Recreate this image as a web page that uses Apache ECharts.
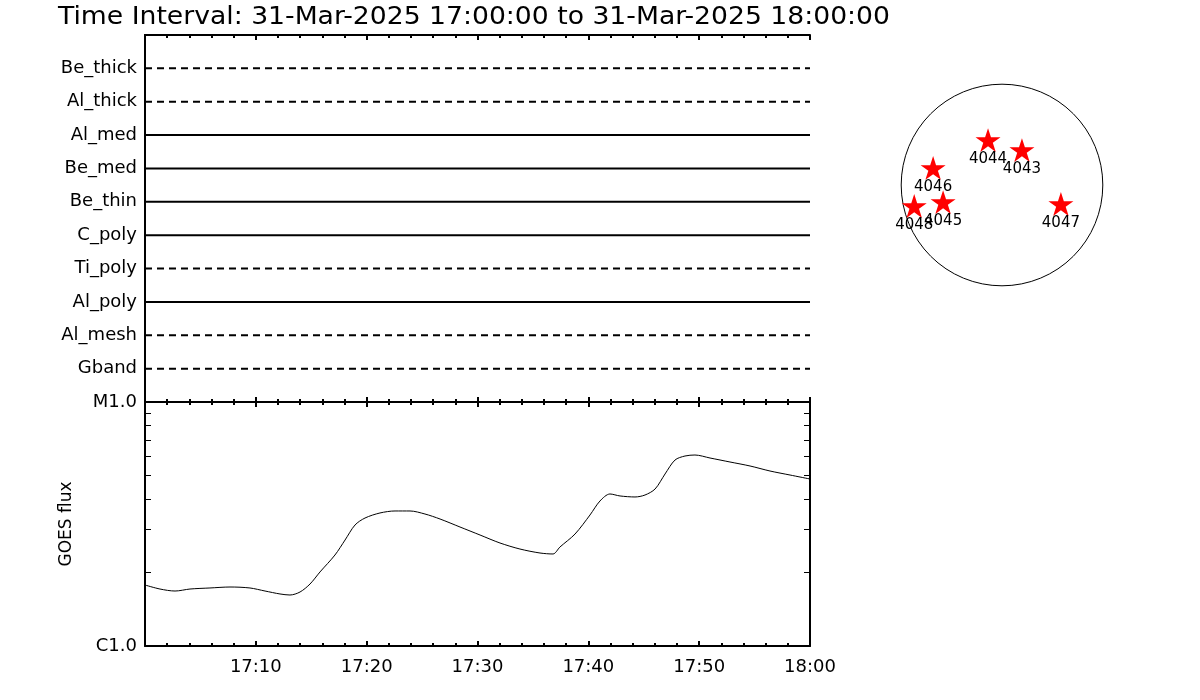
<!DOCTYPE html>
<html>
<head>
<meta charset="utf-8">
<script src="https://cdn.jsdelivr.net/npm/echarts@6/dist/echarts.min.js"></script>
<style>html,body{margin:0;padding:0;background:#fff}#c{width:1200px;height:700px}</style>
</head>
<body>
<div id="c"></div>
<script>
// ---- data ----
var titleText = 'Time Interval: 31-Mar-2025 17:00:00 to 31-Mar-2025 18:00:00';
var filters = ['Be_thick','Al_thick','Al_med','Be_med','Be_thin','C_poly','Ti_poly','Al_poly','Al_mesh','Gband'];
var filterObserved = [false,false,true,true,true,true,false,true,false,false];
var timeLabels = ['', '17:10', '17:20', '17:30', '17:40', '17:50', '18:00']; // every 10 min from 17:00
var fluxLabels = {'-6':'C1.0', '-5':'M1.0'};
var goesMinutes = [0,1.35,2.71,4.06,5.86,7.67,9.47,10.83,12.18,13.08,13.99,14.89,15.79,17.14,18.05,18.95,19.85,21.2,22.56,23.91,25.26,26.62,28.42,30.23,32.03,33.83,35.64,36.81,37.44,38.8,40.15,41.05,41.95,42.86,44.21,45.11,46.02,46.92,47.82,48.72,49.62,50.98,52.78,54.59,56.39,58.2,60];
var goesFlux = [1.778e-6,1.712e-6,1.680e-6,1.712e-6,1.729e-6,1.745e-6,1.729e-6,1.680e-6,1.634e-6,1.618e-6,1.665e-6,1.795e-6,2.011e-6,2.360e-6,2.719e-6,3.133e-6,3.346e-6,3.509e-6,3.576e-6,3.576e-6,3.475e-6,3.315e-6,3.074e-6,2.850e-6,2.643e-6,2.497e-6,2.405e-6,2.383e-6,2.545e-6,2.877e-6,3.443e-6,3.929e-6,4.198e-6,4.120e-6,4.081e-6,4.157e-6,4.399e-6,5.069e-6,5.784e-6,6.007e-6,6.064e-6,5.895e-6,5.677e-6,5.467e-6,5.214e-6,5.020e-6,4.835e-6];
var arNumbers = ['4044','4043','4046','4045','4048','4047'];
var arX = [-133, 190, -656, -561, -836, 561];   // arcsec
var arY = [428, 333, 162, -162, -200, -181];    // arcsec
var solarRadius = 960; // arcsec

// ---- chart ----
var chart = echarts.init(document.getElementById('c'), null, {renderer:'canvas'});
var FONT = 'DejaVu Sans';
var black = '#000';

function timeAxis(grid, pos, showLabel) {
  return {
    type:'value', gridIndex:grid, position:pos, min:0, max:60, interval:10,
    axisLine:{show:true, onZero:false, lineStyle:{color:black, width:2}},
    axisTick:{show:true, inside:true, length:5, lineStyle:{color:black, width:2}},
    minorTick:{show:true, splitNumber:5, length:3, lineStyle:{color:black, width:2}},
    splitLine:{show:false}, minorSplitLine:{show:false},
    axisLabel:{show:showLabel, color:black, fontFamily:FONT, fontSize:18, margin:12,
      formatter:function(v){ return timeLabels[Math.round(v/10)] || ''; }}
  };
}
function fluxAxis(pos, showLabel) {
  return {
    type:'log', logBase:10, gridIndex:1, position:pos, min:1e-6, max:1e-5,
    axisLine:{show:true, onZero:false, lineStyle:{color:black, width:2}},
    axisTick:{show:true, inside:true, length:6, lineStyle:{color:black, width:1},
      customValues:[2e-6,3e-6,4e-6,5e-6,6e-6,7e-6,8e-6,9e-6]},
    splitLine:{show:false},
    name: showLabel ? 'GOES flux' : '', nameLocation:'middle', nameGap:70,
    nameTextStyle:{color:black, fontFamily:FONT, fontSize:17},
    axisLabel:{show:showLabel, color:black, fontFamily:FONT, fontSize:18, margin:8,
      formatter:function(v){ return fluxLabels[String(Math.round(Math.log10(v)))] || ''; }}
  };
}

var series = [];
filters.forEach(function(f, i){
  var yv = filters.length - i;
  series.push({
    type:'line', xAxisIndex:0, yAxisIndex:0, data:[[0,yv],[60,yv]],
    symbol:'none', silent:true,
    lineStyle:{color:black, width:2, type: filterObserved[i] ? 'solid' : [7,5]}
  });
});
series.push({
  type:'line', xAxisIndex:2, yAxisIndex:2,
  data: goesMinutes.map(function(t,i){ return [t, goesFlux[i]]; }),
  symbol:'none', smooth:0.3, lineStyle:{color:black, width:1}
});
series.push({
  type:'custom', xAxisIndex:4, yAxisIndex:4, data:[[0,0,solarRadius]],
  renderItem:function(params, api){
    var c = api.coord([api.value(0), api.value(1)]);
    var r = api.size([api.value(2), 0])[0];
    return {type:'circle', shape:{cx:c[0], cy:c[1], r:r}, style:{fill:null, stroke:black, lineWidth:1}};
  }
});
series.push({
  type:'scatter', xAxisIndex:4, yAxisIndex:4,
  data: arNumbers.map(function(n,i){ return {value:[arX[i], arY[i]], name:n}; }),
  symbol:'path://M50,0 L61.2,34.5 L97.6,34.5 L68.2,55.9 L79.4,90.5 L50,69.1 L20.6,90.5 L31.8,55.9 L2.4,34.5 L38.8,34.5 Z',
  symbolSize:25, symbolKeepAspect:true,
  itemStyle:{color:'#ff0000', opacity:1},
  label:{show:true, position:'bottom', distance:0, color:black, fontFamily:FONT, fontSize:15,
    formatter:function(p){ return p.name; }}
});

chart.setOption({
  animation:false,
  backgroundColor:'#fff',
  graphic:[{type:'text', x:58, y:6, scaleX:1.11, scaleY:1, silent:true,
    style:{text:titleText, fill:black, font:'24px "DejaVu Sans"'}}],
  grid:[
    {left:145, top:35, width:665, height:367},
    {left:145, top:402, width:665, height:244},
    {left:897, top:80, width:210, height:210}
  ],
  xAxis:[
    timeAxis(0,'bottom',false),
    timeAxis(0,'top',false),
    timeAxis(1,'bottom',true),
    timeAxis(1,'top',false),
    {type:'value', gridIndex:2, min:-1000, max:1000, show:false}
  ],
  yAxis:[
    {type:'value', gridIndex:0, position:'left', min:0, max:11, interval:1,
      axisLine:{show:true, lineStyle:{color:black, width:2}}, axisTick:{show:false}, splitLine:{show:false},
      axisLabel:{color:black, fontFamily:FONT, fontSize:18, margin:8,
        formatter:function(v){ var i = filters.length - v; return (i>=0 && i<filters.length && v>0) ? filters[i] : ''; }}},
    {type:'value', gridIndex:0, position:'right', min:0, max:11, interval:1,
      axisLine:{show:true, lineStyle:{color:black, width:2}}, axisTick:{show:false}, splitLine:{show:false}, axisLabel:{show:false}},
    fluxAxis('left', true),
    fluxAxis('right', false),
    {type:'value', gridIndex:2, min:-1000, max:1000, show:false}
  ],
  series:series
});
</script>
</body>
</html>
